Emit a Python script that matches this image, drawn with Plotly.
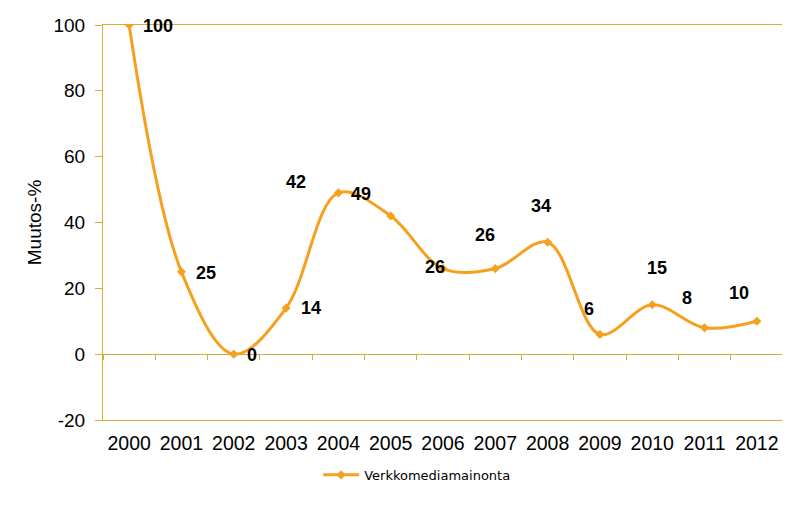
import plotly.graph_objects as go

years = ["2000", "2001", "2002", "2003", "2004", "2005", "2006",
         "2007", "2008", "2009", "2010", "2011", "2012"]
values = [100, 25, 0, 14, 49, 42, 26, 26, 34, 6, 15, 8, 10]
labels = ["100", "25", "0", "14", "49", "42", "26", "26", "34", "6", "15", "8", "10"]
# label offsets in pixels relative to each point (right, up)
label_dx = [29, 25, 18, 25, 23, -95, -8, -10, -7, -11, 5, -18, -18]
label_dy = [-1, -1, -1, 0, -1, 34, 2, 34, 36, 25, 37, 30, 28]

series_name = "Verkkomediamainonta"
yticks = [-20, 0, 20, 40, 60, 80, 100]
ytick_text = ["-20", "0", "20", "40", "60", "80", "100"]

LINE = "#F5A01E"
FRAME = "#DCAA38"
FONT = "Liberation Sans, Arial, sans-serif"

fig = go.Figure()
fig.add_trace(go.Scatter(
    x=years, y=values, mode="lines+markers", name=series_name,
    line=dict(color=LINE, width=3, shape="spline", smoothing=1.0),
    marker=dict(symbol="diamond", size=7, color=LINE),
    xaxis="x", yaxis="y",
))
# invisible copy to drive the axis that sits on the zero line
fig.add_trace(go.Scatter(
    x=years, y=values, mode="markers", showlegend=False, hoverinfo="skip",
    marker=dict(opacity=0), xaxis="x2", yaxis="y",
))

for i, (v, lab) in enumerate(zip(values, labels)):
    fig.add_annotation(x=i, y=v, xref="x", yref="y", text=f"<b>{lab}</b>",
                       showarrow=False, xanchor="center", yanchor="middle",
                       xshift=label_dx[i], yshift=label_dy[i],
                       font=dict(family=FONT, size=18, color="#000000"))

# the page body has an 8px margin, so the figure is drawn 8px smaller
fig.update_layout(
    width=782, height=498,
    margin=dict(l=95, r=7, t=17, b=86, autoexpand=False),
    paper_bgcolor="white", plot_bgcolor="white",
    font=dict(family=FONT, size=18, color="#000000"),
    showlegend=True,
    legend=dict(orientation="h", x=0.462, y=-0.139, xanchor="center", yanchor="middle",
                font=dict(family="DejaVu Sans, sans-serif", size=13, color="#000000"),
                bgcolor="rgba(0,0,0,0)", itemwidth=36),
    xaxis=dict(type="category", range=[-0.5, 12.5], showgrid=False, zeroline=False,
               showline=True, mirror=True, linecolor=FRAME, linewidth=1,
               ticks="", ticklabelstandoff=6, automargin=False,
               tickfont=dict(family=FONT, size=19.5)),
    xaxis2=dict(type="category", overlaying="x", matches="x", anchor="free", position=1/6,
                side="bottom", showgrid=False, zeroline=False, showline=True,
                linecolor=FRAME, linewidth=1, ticks="outside", ticklen=5, tickcolor=FRAME,
                tickson="boundaries", showticklabels=False, automargin=False),
    yaxis=dict(range=[-20, 100], tickvals=yticks, ticktext=ytick_text,
               showgrid=False, zeroline=False,
               showline=True, mirror=True, linecolor=FRAME, linewidth=1,
               ticks="outside", ticklen=7, tickcolor=FRAME, automargin=False,
               ticklabelstandoff=6,
               tickfont=dict(family=FONT, size=19),
               title=dict(text="Muutos-%", font=dict(family=FONT, size=19), standoff=6)),
)

fig.write_html("out.html")
